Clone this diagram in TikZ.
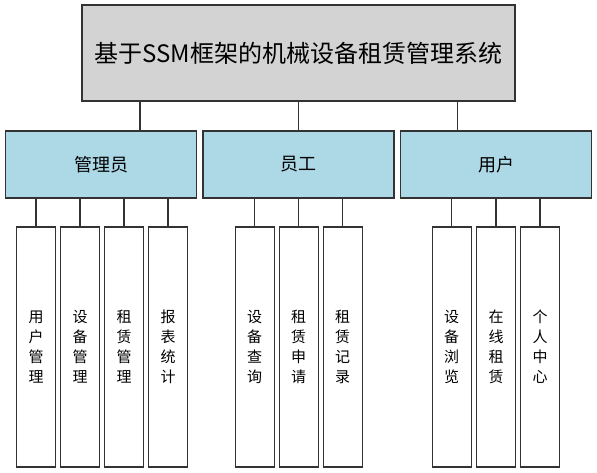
\documentclass[tikz,border=0pt]{standalone}
\usepackage{fontspec}
\setmainfont{Noto Sans CJK SC}
\definecolor{topfill}{HTML}{D3D3D3}
\definecolor{midfill}{HTML}{ADD8E6}
\definecolor{edge}{HTML}{333333}
\begin{document}
\begin{tikzpicture}[x=1pt,y=1pt,
  box/.style={draw=edge,line width=1.4pt,inner sep=0pt,outer sep=0pt},
  topbox/.style={box,fill=topfill,minimum width=433pt,minimum height=96pt,font=\fontsize{24}{28}\selectfont},
  midbox/.style={box,fill=midfill,minimum width=191pt,minimum height=67pt,font=\fontsize{18}{22}\selectfont},
  subbox/.style={box,fill=white,minimum width=39pt,minimum height=240pt,align=center,font=\fontsize{15}{20}\selectfont},
  link/.style={draw=edge,line width=1.4pt}]
\useasboundingbox (0,0) rectangle (597,473);
\node[topbox] (top) at (298.5,420) {基于SSM框架的机械设备租赁管理系统};
\node[midbox] (m1) at (101,308.5) {管理员};
\node[midbox] (m2) at (298.5,308.5) {员工};
\node[midbox] (m3) at (496,308.5) {用户};
% sub boxes
\node[subbox] (a1) at (36,126) {用\\户\\管\\理};
\node[subbox] (a2) at (80,126) {设\\备\\管\\理};
\node[subbox] (a3) at (124,126) {租\\赁\\管\\理};
\node[subbox] (a4) at (168,126) {报\\表\\统\\计};
\node[subbox] (b1) at (254.7,126) {设\\备\\查\\询};
\node[subbox] (b2) at (298.7,126) {租\\赁\\申\\请};
\node[subbox] (b3) at (342.7,126) {租\\赁\\记\\录};
\node[subbox] (c1) at (451.7,126) {设\\备\\浏\\览};
\node[subbox] (c2) at (496,126) {在\\线\\租\\赁};
\node[subbox] (c3) at (540,126) {个\\人\\中\\心};
% top connectors
\coordinate (k1) at (140,0);
\coordinate (k2) at (298.7,0);
\coordinate (k3) at (457.3,0);
\draw[link] (top.south -| k1) -- (m1.north -| k1);
\draw[link] (top.south -| k2) -- (m2.north -| k2);
\draw[link] (top.south -| k3) -- (m3.north -| k3);
% sub connectors
\foreach \s in {a1,a2,a3,a4} \draw[link] (m1.south -| \s.north) -- (\s.north);
\foreach \s in {b1,b2,b3} \draw[link] (m2.south -| \s.north) -- (\s.north);
\foreach \s in {c1,c2,c3} \draw[link] (m3.south -| \s.north) -- (\s.north);
\end{tikzpicture}
\end{document}
